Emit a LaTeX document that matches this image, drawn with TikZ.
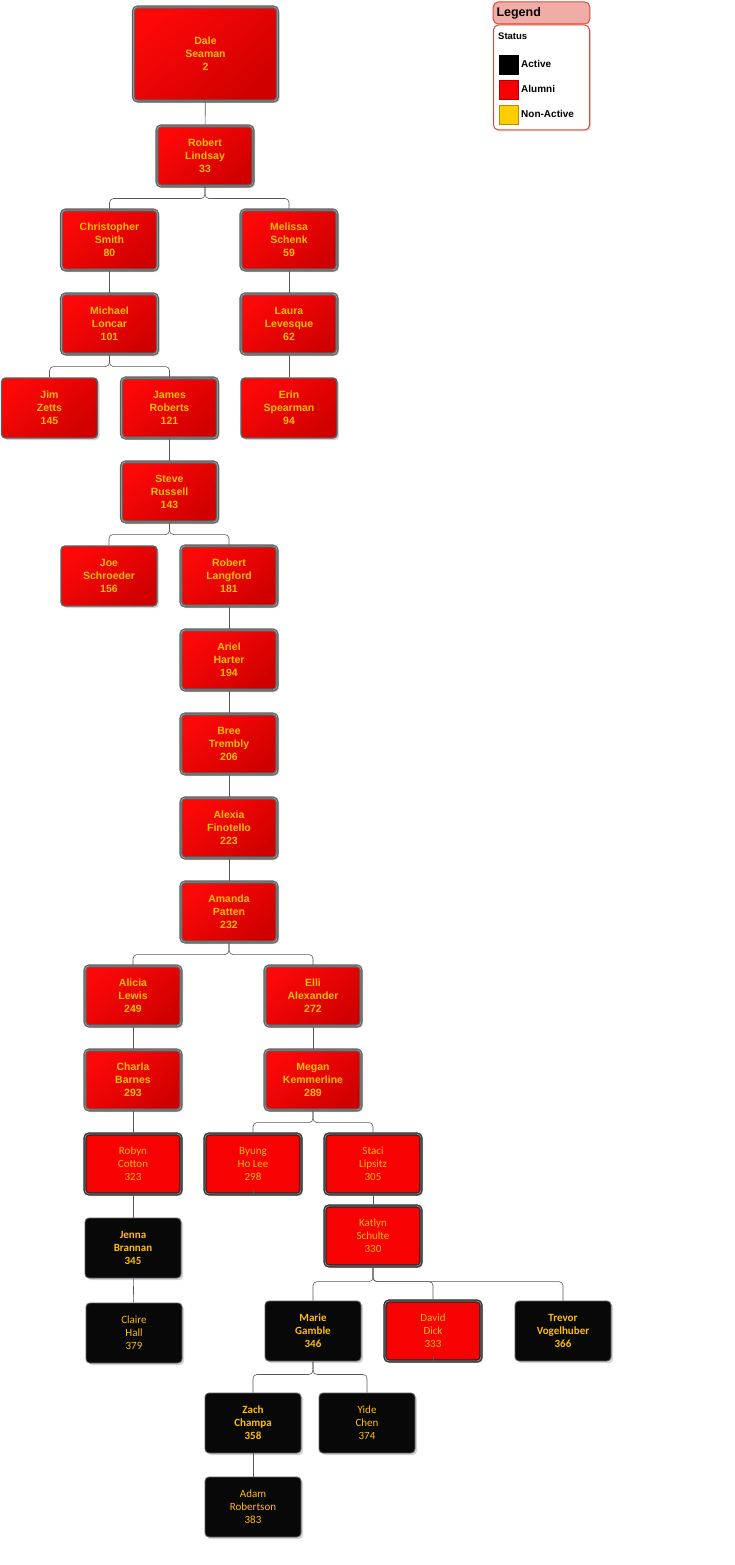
\documentclass[tikz,border=0pt]{standalone}
\usepackage{fontspec}
\setsansfont{Liberation Sans}
\newfontfamily\calfont{Carlito}
\usetikzlibrary{shadows}
\definecolor{gold}{RGB}{255,190,0}
\definecolor{redhi}{RGB}{252,8,8}
\definecolor{redlo}{RGB}{208,0,0}
\definecolor{flatred}{RGB}{246,2,2}
\definecolor{rimgray}{RGB}{95,95,95}
\definecolor{rimlight}{RGB}{150,150,150}
\definecolor{legendpink}{RGB}{240,172,166}
\definecolor{legendred}{RGB}{222,72,56}
\definecolor{legendyellow}{RGB}{255,206,0}
\tikzset{
	person/.style={rounded corners=4pt, minimum width=96pt, minimum height=60pt, inner sep=2pt,
		align=center, text=gold, font=\sffamily\bfseries\fontsize{10.5}{13}\selectfont,
		drop shadow={opacity=0.35, shadow xshift=2pt, shadow yshift=-2pt}},
	alumni/.style={person, top color=redhi, bottom color=redlo, shading angle=40, draw=rimgray,
		line width=1.1pt, double=rimlight, double distance=0.9pt},
	leaf/.style={person, top color=redhi, bottom color=redlo, shading angle=40, draw=rimgray, line width=1.4pt},
	flat/.style={person, fill=flatred, draw=black!85, line width=1.2pt, double=rimlight,
		double distance=0.8pt, font=\calfont\fontsize{11}{13}\selectfont},
	active/.style={person, fill=black!97, draw=rimgray, line width=0.9pt,
		font=\calfont\bfseries\fontsize{11}{13}\selectfont},
	activelight/.style={active, font=\calfont\fontsize{11}{13}\selectfont},
	link/.style={draw=black!65, line width=0.6pt, rounded corners=4pt},
	swatch/.style={minimum size=19pt, inner sep=0pt, draw=#1!70!black, fill=#1},
	legendtext/.style={anchor=west, inner sep=0pt, font=\sffamily\bfseries\fontsize{10}{12}\selectfont}
}
\begin{document}
\begin{tikzpicture}[x=1pt,y=-1pt]
	\useasboundingbox (0,0) rectangle (735,1565);
	\node[alumni, minimum width=144pt, minimum height=94pt] (ds) at (205.5,54) {Dale\\Seaman\\2};
	\node[alumni] (rl) at (205,156) {Robert\\Lindsay\\33};
	\node[alumni] (cs) at (109.5,240) {Christopher\\Smith\\80};
	\node[alumni] (ms) at (289,240) {Melissa\\Schenk\\59};
	\node[alumni] (ml) at (109.5,324) {Michael\\Loncar\\101};
	\node[alumni] (ll) at (289,324) {Laura\\Levesque\\62};
	\node[leaf] (jz) at (49.5,408) {Jim\\Zetts\\145};
	\node[alumni] (jr) at (169.5,408) {James\\Roberts\\121};
	\node[leaf] (es) at (289,408) {Erin\\Spearman\\94};
	\node[alumni] (sr) at (169.5,492) {Steve\\Russell\\143};
	\node[leaf] (js) at (109,576) {Joe\\Schroeder\\156};
	\node[alumni] (rlg) at (229,576) {Robert\\Langford\\181};
	\node[alumni] (ah) at (229,660) {Ariel\\Harter\\194};
	\node[alumni] (bt) at (229,744) {Bree\\Trembly\\206};
	\node[alumni] (af) at (229,828) {Alexia\\Finotello\\223};
	\node[alumni] (ap) at (229,912) {Amanda\\Patten\\232};
	\node[alumni] (al) at (133,996) {Alicia\\Lewis\\249};
	\node[alumni] (ea) at (313,996) {Elli\\Alexander\\272};
	\node[alumni] (cb) at (133,1080) {Charla\\Barnes\\293};
	\node[alumni] (mk) at (313,1080) {Megan\\Kemmerline\\289};
	\node[flat] (rc) at (133,1164) {Robyn\\Cotton\\323};
	\node[flat] (bhl) at (253,1164) {Byung\\Ho Lee\\298};
	\node[flat] (sl) at (373,1164) {Staci\\Lipsitz\\305};
	\node[active] (jb) at (133,1248) {Jenna\\Brannan\\345};
	\node[flat] (ks) at (373,1236) {Katlyn\\Schulte\\330};
	\node[activelight] (ch) at (134,1333) {Claire\\Hall\\379};
	\node[active] (mg) at (313,1331) {Marie\\Gamble\\346};
	\node[flat] (dd) at (433,1331) {David\\Dick\\333};
	\node[active] (tv) at (563,1331) {Trevor\\Vogelhuber\\366};
	\node[active] (zc) at (253,1423) {Zach\\Champa\\358};
	\node[activelight] (yc) at (367,1423) {Yide\\Chen\\374};
	\node[activelight] (ar) at (253,1507) {Adam\\Robertson\\383};

	\draw[link] (ds) -- (rl);
	\draw[link] (rl.south) -- ++(0,12) -| (cs.north);
	\draw[link] (rl.south) -- ++(0,12) -| (ms.north);
	\draw[link] (cs) -- (ml);
	\draw[link] (ms) -- (ll);
	\draw[link] (ll) -- (es);
	\draw[link] (ml.south) -- ++(0,12) -| (jz.north);
	\draw[link] (ml.south) -- ++(0,12) -| (jr.north);
	\draw[link] (jr) -- (sr);
	\draw[link] (sr.south) -- ++(0,12) -| (js.north);
	\draw[link] (sr.south) -- ++(0,12) -| (rlg.north);
	\draw[link] (rlg) -- (ah);
	\draw[link] (ah) -- (bt);
	\draw[link] (bt) -- (af);
	\draw[link] (af) -- (ap);
	\draw[link] (ap.south) -- ++(0,12) -| (al.north);
	\draw[link] (ap.south) -- ++(0,12) -| (ea.north);
	\draw[link] (al) -- (cb);
	\draw[link] (cb) -- (rc);
	\draw[link] (rc) -- (jb);
	\draw[link] (jb) -- (ch);
	\draw[link] (ea) -- (mk);
	\draw[link] (mk.south) -- ++(0,12) -| (bhl.north);
	\draw[link] (mk.south) -- ++(0,12) -| (sl.north);
	\draw[link] (sl) -- (ks);
	\draw[link] (ks.south) -- ++(0,15) -| (mg.north);
	\draw[link] (ks.south) -- ++(0,15) -| (dd.north);
	\draw[link] (ks.south) -- ++(0,15) -| (tv.north);
	\draw[link] (mg.south) -- ++(0,13) -| (zc.north);
	\draw[link] (mg.south) -- ++(0,13) -| (yc.north);
	\draw[link] (zc) -- (ar);
	\coordinate (bhlstub) at ([yshift=6pt]bhl.south);
	\coordinate (ddstub) at ([yshift=6pt]dd.south);
	\draw[link] (bhl.south) -- (bhlstub);
	\draw[link] (dd.south) -- (ddstub);

	\node[rounded corners=5pt, draw=legendred, line width=1pt, fill=white, minimum width=96pt, minimum height=105pt,
		drop shadow={opacity=0.3, shadow xshift=1.5pt, shadow yshift=-1.5pt}] (lgb) at (541.5,77.5) {};
	\node[rounded corners=5pt, draw=legendred, line width=1pt, fill=legendpink, minimum width=96pt, minimum height=22pt,
		text width=90pt, align=left, font=\sffamily\bfseries\fontsize{12.5}{14}\selectfont] (lgh) at (541.5,13) {Legend};
	\node[legendtext, font=\sffamily\bfseries\fontsize{9.5}{11}\selectfont] (lgs) at (498,36) {Status};
	\node[swatch=black] (swa) at (509,65) {};
	\node[swatch=flatred] (swb) at (509,90) {};
	\node[swatch=legendyellow] (swc) at (509,115) {};
	\node[legendtext] (lga) at (521,64) {Active};
	\node[legendtext] (lgl) at (521,89) {Alumni};
	\node[legendtext] (lgn) at (521,114) {Non-Active};
\end{tikzpicture}
\end{document}
